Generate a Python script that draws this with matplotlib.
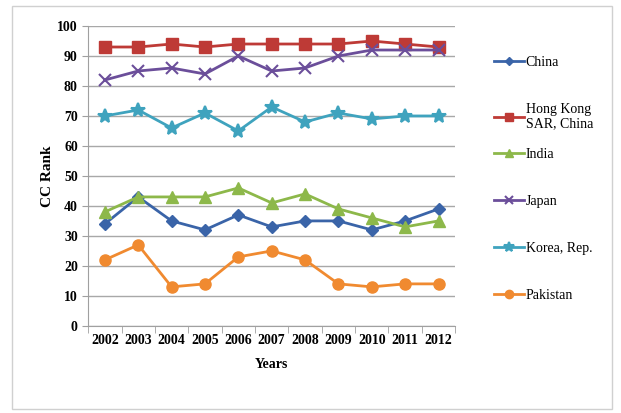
import matplotlib.pyplot as plt
from matplotlib.patches import Rectangle

years = ["2002", "2003", "2004", "2005", "2006", "2007", "2008", "2009", "2010", "2011", "2012"]
china = [34, 43, 35, 32, 37, 33, 35, 35, 32, 35, 39]
hong_kong = [93, 93, 94, 93, 94, 94, 94, 94, 95, 94, 93]
india = [38, 43, 43, 43, 46, 41, 44, 39, 36, 33, 35]
japan = [82, 85, 86, 84, 90, 85, 86, 90, 92, 92, 92]
korea = [70, 72, 66, 71, 65, 73, 68, 71, 69, 70, 70]
pakistan = [22, 27, 13, 14, 23, 25, 22, 14, 13, 14, 14]

series = [
    ("China", china, "#3A64A8", "D", 6),
    ("Hong Kong\nSAR, China", hong_kong, "#BE3A36", "s", 8),
    ("India", india, "#8DB84A", "^", 8),
    ("Japan", japan, "#6B4E9A", "x", 8),
    ("Korea, Rep.", korea, "#3FA3BE", "*", 10),
    ("Pakistan", pakistan, "#F08A30", "o", 8),
]

plt.rcParams["font.family"] = ["Liberation Serif", "DejaVu Serif"]

fig = plt.figure(figsize=(6.21, 4.13), dpi=100)
fig.patches.append(Rectangle((0.02, 0.01), 0.965, 0.975, transform=fig.transFigure,
                             fill=False, edgecolor="#d0d0d0", linewidth=1))
ax = fig.add_axes([0.142, 0.211, 0.591, 0.726])

x = list(range(len(years)))
lines = []
for name, vals, color, marker, size in series:
    ln, = ax.plot(x, vals, color=color, linewidth=2.0, marker=marker, markersize=size,
                  markeredgecolor=color, markeredgewidth=1.5 if marker in "x*" else 1,
                  label=name)
    lines.append(ln)

ax.set_xlim(-0.5, len(years) - 0.5)
ax.set_ylim(0, 100)
ax.set_yticks(range(0, 101, 10))
ax.set_xticks(x)
ax.set_xticklabels(years, fontweight="bold", fontsize=10)
for lbl in ax.get_yticklabels():
    lbl.set_fontweight("bold")
    lbl.set_fontsize(10)
ax.set_xticks([i - 0.5 for i in range(len(years) + 1)], minor=True)
ax.tick_params(axis="x", which="major", length=0, pad=6)
ax.tick_params(axis="x", which="minor", length=5, color="#a0a0a0")
ax.tick_params(axis="y", length=4, color="#a0a0a0")

ax.grid(axis="y", color="#a8a8a8", linewidth=1)
ax.set_axisbelow(True)
for side in ["top", "right"]:
    ax.spines[side].set_visible(False)
ax.spines["left"].set_color("#a0a0a0")
ax.spines["bottom"].set_color("#a0a0a0")

ax.set_ylabel("CC Rank", fontweight="bold", fontsize=11, labelpad=2)
ax.set_xlabel("Years", fontweight="bold", fontsize=10, labelpad=8)

# legend is split in two so the wrapped Hong Kong label keeps its text top-aligned
leg_kw = dict(loc="upper left", frameon=False, fontsize=10, handlelength=2.2,
              handletextpad=0.1, labelspacing=2.45, markerscale=0.75, borderaxespad=0)
leg1 = ax.legend(handles=lines[:2], bbox_to_anchor=(1.09, 0.92), **leg_kw)
ax.add_artist(leg1)
ax.legend(handles=lines[2:], bbox_to_anchor=(1.09, 0.613), **leg_kw)

fig.savefig("out.png", dpi=100)
